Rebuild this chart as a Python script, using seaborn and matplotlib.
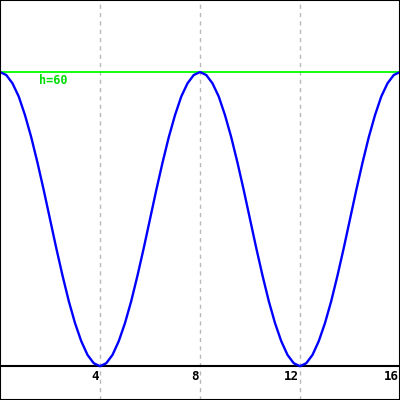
import numpy as np
import pandas as pd
import seaborn as sns
import matplotlib
matplotlib.use('Agg')
import matplotlib.pyplot as plt

sns.set_style('white')

# curve, one point every 0.25 on x
x_vals = [i * 0.25 for i in range(65)]
h_half = [60.0, 59.4, 57.7, 55.0, 51.2, 46.7, 41.5, 35.9, 30.0,
          24.1, 18.5, 13.3, 8.8, 5.1, 2.3, 0.6, 0.0]
h_vals = (h_half + h_half[-2::-1][:16] + h_half[1:] + h_half[-2::-1][:16])
h_max = 60
tick_pos = [4, 8, 12, 16]
tick_labels = ['4', '8', '12', '16']

df = pd.DataFrame({'x': x_vals, 'h': h_vals})

fig = plt.figure(figsize=(4, 4), dpi=100)
ax = fig.add_axes([0, 0, 1, 1])

for t in tick_pos[:-1]:
    ax.axvline(t, color='#b8b8b8', lw=1, ls=(0, (3, 3)), zorder=0)

ax.axhline(h_max, color='#00ff00', lw=1.3, zorder=1)
ax.axhline(0, color='black', lw=1.5, zorder=1)

sns.lineplot(data=df, x='x', y='h', ax=ax, color='#0000ff', lw=1.7, zorder=2)

ax.text(1.55, h_max - 0.4, 'h=60', color='#00dd00', fontsize=8.5,
        fontweight='bold', family='DejaVu Sans Mono', ha='left', va='top')

for p, lab in zip(tick_pos, tick_labels):
    ax.text(p - 0.06, -0.8, lab, fontsize=9, fontweight='bold', color='black',
            family='DejaVu Sans Mono', ha='right', va='top')

ax.set_xlim(0, 16)
ax.set_ylim(-6.9, 74.7)
ax.set_xticks([])
ax.set_yticks([])
ax.set_xlabel('')
ax.set_ylabel('')
for s in ax.spines.values():
    s.set_visible(True)
    s.set_color('black')
    s.set_linewidth(1.5)

fig.savefig('out.png', dpi=100)
